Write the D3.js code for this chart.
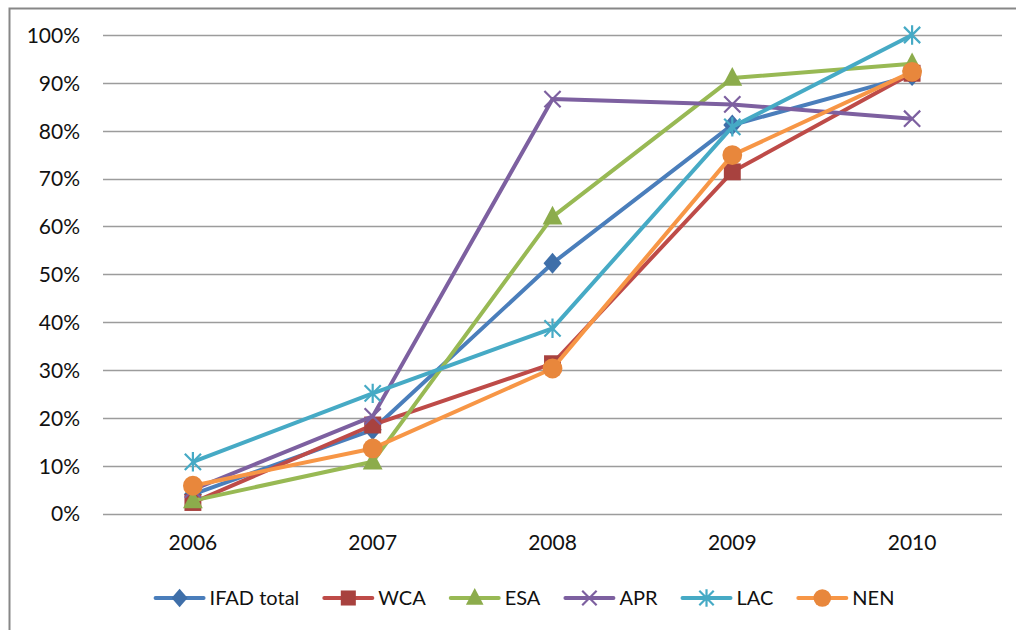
<!DOCTYPE html>
<html>
<head>
<meta charset="utf-8">
<script src="https://cdn.jsdelivr.net/npm/d3@7"></script>
<style>
  html, body { margin: 0; padding: 0; background: #fff; }
  svg { display: block; font-family: Lato, "Open Sans", sans-serif; }
</style>
</head>
<body>
<svg id="chart" width="1016" height="630"></svg>
<script>
// Share of projects per region, 2006-2010
const years = ["2006", "2007", "2008", "2009", "2010"];
const seriesNames = ["IFAD total", "WCA", "ESA", "APR", "LAC", "NEN"];
const ifadTotal = [0.04, 0.175, 0.523, 0.812, 0.915];
const wca       = [0.023, 0.185, 0.313, 0.714, 0.92];
const esa       = [0.027, 0.108, 0.62, 0.91, 0.94];
const apr       = [0.05, 0.203, 0.866, 0.855, 0.825];
const lac       = [0.108, 0.251, 0.387, 0.808, 1.0];
const nen       = [0.058, 0.136, 0.303, 0.749, 0.923];
const yTicks    = [0, 0.1, 0.2, 0.3, 0.4, 0.5, 0.6, 0.7, 0.8, 0.9, 1.0];

const seriesValues = [ifadTotal, wca, esa, apr, lac, nen];
const lineColors   = ["#4a7ebb", "#be4b48", "#98b954", "#7d60a0", "#46aac5", "#f79646"];
const markerColors = ["#3f6fa9", "#a8423f", "#8cac4c", "#6f5591", "#3e9cb5", "#e8873c"];
const markerKinds  = ["diamond", "square", "triangle", "x", "star", "circle"];

const series = seriesNames.map((name, i) => ({
  name, values: seriesValues[i], color: lineColors[i], mcolor: markerColors[i], kind: markerKinds[i]
}));

const svg = d3.select("#chart");
const plot = { left: 103, right: 1002, top: 35, bottom: 513.5 };

// frame of the chart area
svg.append("rect")
  .attr("x", 9.5).attr("y", 8.5)
  .attr("width", 1100).attr("height", 700)
  .attr("fill", "none").attr("stroke", "#878787").attr("stroke-width", 2);

const x = d3.scaleBand().domain(years).range([plot.left, plot.right]);
const y = d3.scaleLinear().domain([0, 1]).range([plot.bottom, plot.top]);
const cx = d => x(d) + x.bandwidth() / 2;

// horizontal gridlines
svg.append("g").selectAll("line").data(yTicks).join("line")
  .attr("x1", plot.left).attr("x2", plot.right)
  .attr("y1", d => Math.round(y(d)) + 0.5).attr("y2", d => Math.round(y(d)) + 0.5)
  .attr("stroke", "#9c9c9c").attr("stroke-width", 1.3);

// y axis labels
const yAxis = d3.axisLeft(y).tickValues(yTicks).tickFormat(d3.format(".0%")).tickSize(0).tickPadding(0);
const gy = svg.append("g").attr("transform", `translate(80,0)`).call(yAxis);
gy.select(".domain").remove();
gy.selectAll("text").attr("font-size", 21).attr("font-family", "Lato, sans-serif").attr("fill", "#111").attr("dy", "0.35em");

// x axis labels
const xAxis = d3.axisBottom(x).tickSize(0).tickPadding(0);
const gx = svg.append("g").attr("transform", `translate(0,535)`).call(xAxis);
gx.select(".domain").remove();
gx.selectAll("text").attr("font-size", 21).attr("font-family", "Lato, sans-serif").attr("fill", "#111").attr("dy", "0.7em");

// marker drawing
function drawMarker(g, kind, color, size) {
  const s = size;
  if (kind === "diamond") {
    g.append("path").attr("d", `M0,${-s * 0.58}L${s * 0.5},0L0,${s * 0.58}L${-s * 0.5},0Z`).attr("fill", color);
  } else if (kind === "square") {
    g.append("rect").attr("x", -s * 0.47).attr("y", -s * 0.47).attr("width", s * 0.94).attr("height", s * 0.94).attr("fill", color);
  } else if (kind === "triangle") {
    g.append("path").attr("d", `M0,${-s * 0.62}L${s * 0.55},${s * 0.42}L${-s * 0.55},${s * 0.42}Z`).attr("fill", color);
  } else if (kind === "circle") {
    g.append("circle").attr("r", s * 0.55).attr("fill", color);
  } else if (kind === "x") {
    const h = s * 0.45;
    g.append("path").attr("d", `M${-h},${-h}L${h},${h}M${-h},${h}L${h},${-h}`)
      .attr("stroke", color).attr("stroke-width", 2.2).attr("fill", "none");
  } else if (kind === "star") {
    const h = s * 0.45;
    g.append("path").attr("d", `M${-h},${-h}L${h},${h}M${-h},${h}L${h},${-h}M0,${-h * 1.2}L0,${h * 1.2}`)
      .attr("stroke", color).attr("stroke-width", 2.2).attr("fill", "none");
  }
}

// series lines and markers
const line = d3.line().x((d, i) => cx(years[i])).y(d => y(d));
const sg = svg.append("g");
series.forEach(s => {
  const g = sg.append("g");
  g.append("path").datum(s.values).attr("d", line)
    .attr("fill", "none").attr("stroke", s.color).attr("stroke-width", 4).attr("stroke-linejoin", "round");
  s.values.forEach((v, i) => {
    const mg = g.append("g").attr("transform", `translate(${cx(years[i])},${y(v)})`);
    drawMarker(mg, s.kind, s.kind === "x" || s.kind === "star" ? s.color : s.mcolor, 18);
  });
});

// legend
const legend = svg.append("g").attr("transform", "translate(0,598)");
const lineLen = 48, textGap = 6, itemGap = 25;
let lx = 0;
series.forEach(s => {
  const it = legend.append("g").attr("transform", `translate(${lx},0)`);
  it.append("line").attr("x1", 0).attr("x2", lineLen).attr("y1", 0).attr("y2", 0)
    .attr("stroke", s.color).attr("stroke-width", 4).attr("stroke-linecap", "round");
  const mg = it.append("g").attr("transform", `translate(${lineLen / 2},0)`);
  drawMarker(mg, s.kind, s.kind === "x" || s.kind === "star" ? s.color : s.mcolor, 16);
  const t = it.append("text").attr("x", lineLen + textGap).attr("y", 0).attr("dy", "0.35em")
    .attr("font-size", 20).attr("font-family", "Lato, sans-serif").attr("fill", "#111").text(s.name);
  const w = t.node().getComputedTextLength();
  lx += lineLen + textGap + w + itemGap;
});
const total = lx - itemGap;
legend.attr("transform", `translate(${525 - total / 2},598)`);
</script>
</body>
</html>
